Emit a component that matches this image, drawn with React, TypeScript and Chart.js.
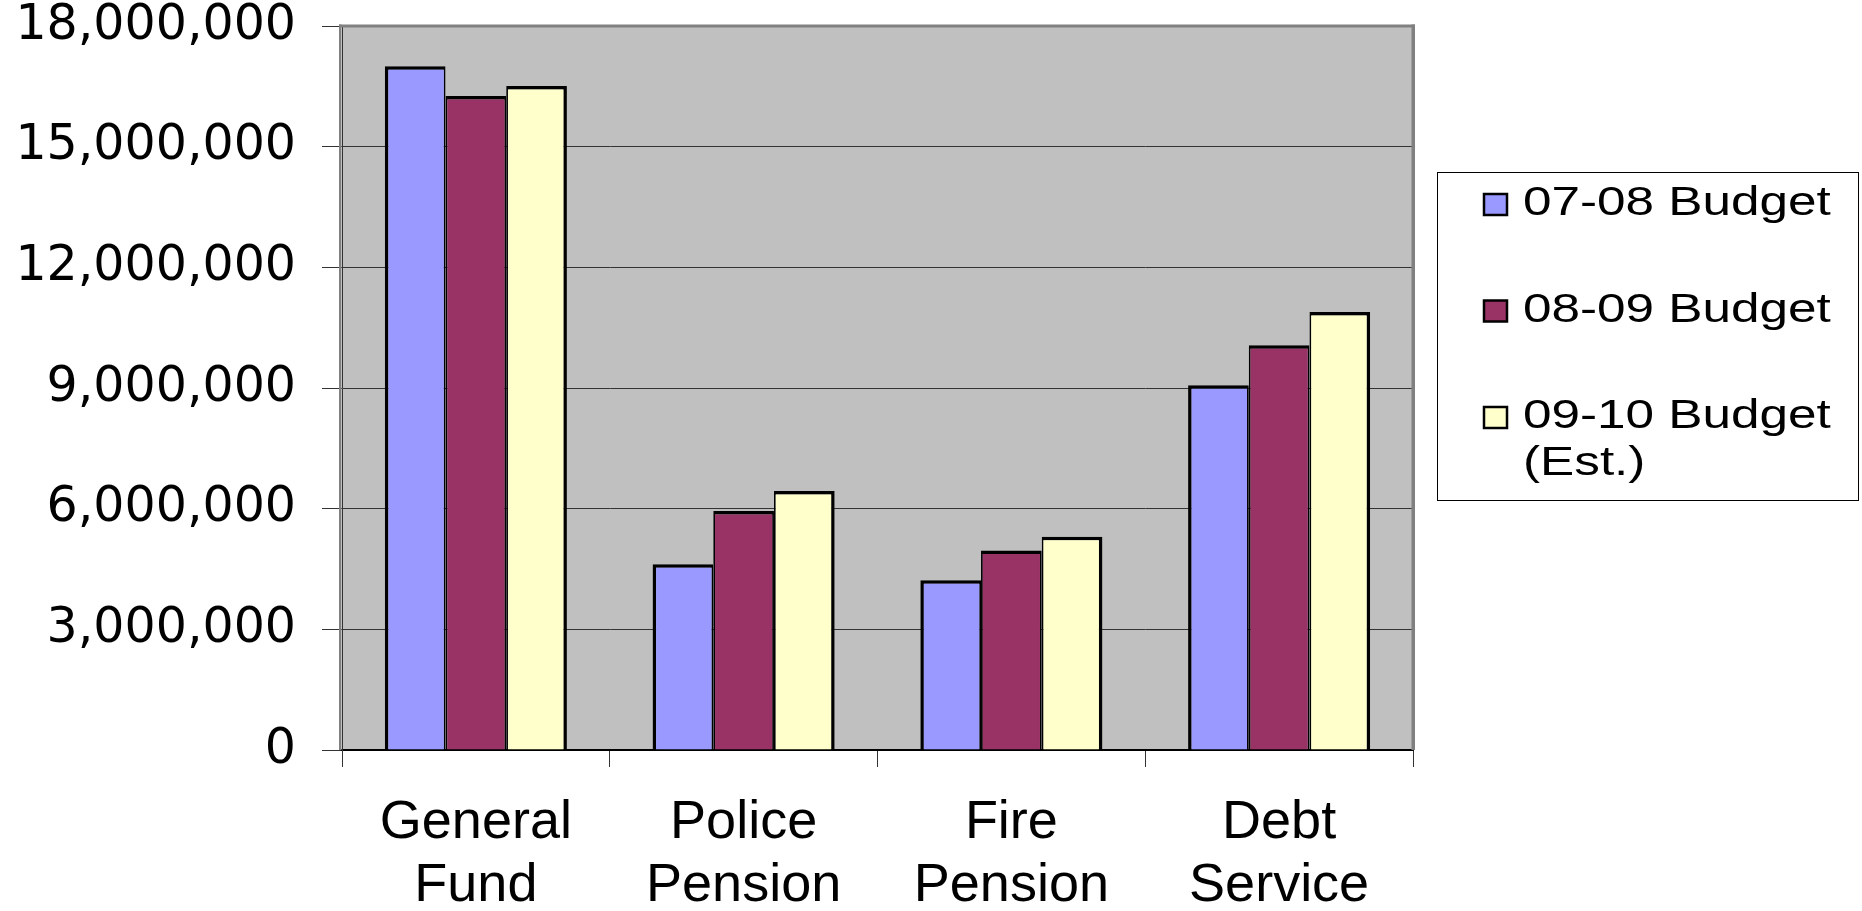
import React, { useEffect, useRef } from 'react';
import { Chart, registerables } from 'chart.js';

Chart.register(...registerables);

// Fund categories (two-line axis labels)
const categories: string[][] = [
  ['General', 'Fund'],
  ['Police', 'Pension'],
  ['Fire', 'Pension'],
  ['Debt', 'Service'],
];

// Series names
const seriesLabels = ['07-08 Budget', '08-09 Budget', '09-10 Budget (Est.)'];

// Budget amounts per fund
const budget0708 = [17000000, 4620000, 4220000, 9070000];
const budget0809 = [16260000, 5940000, 4960000, 10060000];
const budget0910 = [16510000, 6440000, 5300000, 10890000];

const seriesColors = ['#9999FF', '#993366', '#FFFFCC'];

// Value axis ticks
const yTickValues = [0, 3000000, 6000000, 9000000, 12000000, 15000000, 18000000];

const W = 1862;
const H = 911;
const PLOT_LEFT = 342;
const PLOT_RIGHT = 1413;
const PLOT_TOP = 26;
const PLOT_BOTTOM = 750;

// Grey plot-area background plus its frame
const plotFrame = {
  id: 'plotFrame',
  beforeDraw(chart: any) {
    const { ctx, chartArea: a } = chart;
    ctx.save();
    ctx.fillStyle = '#C0C0C0';
    ctx.fillRect(a.left, a.top, a.right - a.left, a.bottom - a.top);
    ctx.restore();
  },
  afterDatasetsDraw(chart: any) {
    const { ctx, chartArea: a } = chart;
    ctx.save();
    ctx.fillStyle = '#808080';
    // top edge
    ctx.fillRect(a.left - 3, a.top - 1.5, a.right - a.left + 5, 3);
    // right edge
    ctx.fillRect(a.right - 1.5, a.top - 1.5, 3.5, a.bottom - a.top + 1.5);
    // left edge
    ctx.fillRect(a.left - 3, a.top - 1.5, 2.5, a.bottom - a.top + 1.5);
    ctx.restore();
  },
};

// Boxed legend on the right side
const boxedLegend = {
  id: 'boxedLegend',
  afterDraw(chart: any) {
    const ctx = chart.ctx;
    const bx = 1437;
    const by = 172;
    const bw = 422;
    const bh = 329;
    const textX = 1523;
    const stretch = 1.25;
    const maxTextWidth = 330;
    ctx.save();
    ctx.fillStyle = '#FFFFFF';
    ctx.fillRect(bx, by, bw, bh);
    ctx.strokeStyle = '#000000';
    ctx.lineWidth = 1;
    ctx.strokeRect(bx + 0.5, by + 0.5, bw - 1, bh - 1);
    ctx.font = '41px "Liberation Sans", Arial, sans-serif';
    chart.data.datasets.forEach((ds: any, i: number) => {
      const base = 215 + i * 106.5;
      ctx.fillStyle = ds.backgroundColor;
      ctx.fillRect(1484, base - 21, 23, 21);
      ctx.strokeStyle = '#000000';
      ctx.lineWidth = 2.5;
      ctx.strokeRect(1484, base - 21, 23, 21);
      // wrap label into lines that fit the box
      const words = String(ds.label).split(' ');
      const lines: string[] = [];
      let cur = '';
      words.forEach((w) => {
        const test = cur ? cur + ' ' + w : w;
        if (cur && ctx.measureText(test).width * stretch > maxTextWidth) {
          lines.push(cur);
          cur = w;
        } else {
          cur = test;
        }
      });
      if (cur) lines.push(cur);
      lines.forEach((line, j) => {
        ctx.save();
        ctx.translate(textX, base + j * 46.5);
        ctx.scale(stretch, 1);
        ctx.fillStyle = '#000000';
        ctx.textBaseline = 'alphabetic';
        ctx.textAlign = 'left';
        ctx.fillText(line, 0, 0);
        ctx.restore();
      });
    });
    ctx.restore();
  },
};

function borderFor(i: number, n: number) {
  return {
    top: 3.5,
    left: i === 0 ? 3.5 : 1.75,
    right: i === n - 1 ? 3.5 : 1.75,
    bottom: 0,
  };
}

export default function App() {
  const canvasRef = useRef<HTMLCanvasElement | null>(null);

  useEffect(() => {
    const canvas = canvasRef.current;
    if (!canvas) return;
    const seriesData = [budget0708, budget0809, budget0910];
    const chart = new Chart(canvas, {
      type: 'bar',
      data: {
        labels: categories,
        datasets: seriesData.map((d, i) => ({
          label: seriesLabels[i],
          data: d,
          backgroundColor: seriesColors[i],
          borderColor: '#000000',
          borderWidth: borderFor(i, seriesData.length),
          borderSkipped: 'start',
          categoryPercentage: 0.68,
          barPercentage: 1.0,
        })),
      },
      options: {
        responsive: false,
        animation: false,
        devicePixelRatio: 1,
        layout: {
          padding: { left: 0, right: W - PLOT_RIGHT, top: PLOT_TOP, bottom: 0 },
        },
        plugins: {
          legend: { display: false },
          tooltip: { enabled: false },
          title: { display: false },
        },
        scales: {
          x: {
            type: 'category',
            offset: true,
            grid: {
              display: true,
              offset: true,
              drawOnChartArea: false,
              drawTicks: true,
              tickLength: 17,
              color: '#333333',
              lineWidth: 1,
            },
            border: { display: true, color: '#000000', width: 2 },
            ticks: {
              color: '#000000',
              padding: 25,
              maxRotation: 0,
              minRotation: 0,
              autoSkip: false,
              font: { family: '"Liberation Sans", Arial, sans-serif', size: 54, lineHeight: 63 / 54 },
            },
            afterFit: (scale: any) => {
              scale.height = H - PLOT_BOTTOM;
              scale.paddingLeft = 0;
              scale.paddingRight = 0;
            },
          },
          y: {
            type: 'linear',
            min: 0,
            max: 18000000,
            afterBuildTicks: (scale: any) => {
              scale.ticks = yTickValues.map((v) => ({ value: v }));
            },
            grid: {
              display: true,
              drawTicks: true,
              tickLength: 20,
              color: '#333333',
              lineWidth: 1,
            },
            border: { display: true, color: '#333333', width: 1 },
            ticks: {
              color: '#000000',
              padding: 26,
              font: { family: '"DejaVu Sans", sans-serif', size: 49, lineHeight: 1 },
              callback: (v: any) => Number(v).toLocaleString('en-US'),
            },
            afterFit: (scale: any) => {
              scale.width = PLOT_LEFT;
              scale.paddingTop = 0;
              scale.paddingBottom = 0;
            },
          },
        },
      },
      plugins: [plotFrame, boxedLegend],
    });
    return () => chart.destroy();
  }, []);

  return (
    <div style={{ position: 'absolute', left: 0, top: 0, width: W, height: H, background: '#FFFFFF' }}>
      <canvas ref={canvasRef} width={W} height={H} style={{ display: 'block', width: W, height: H }} />
    </div>
  );
}
